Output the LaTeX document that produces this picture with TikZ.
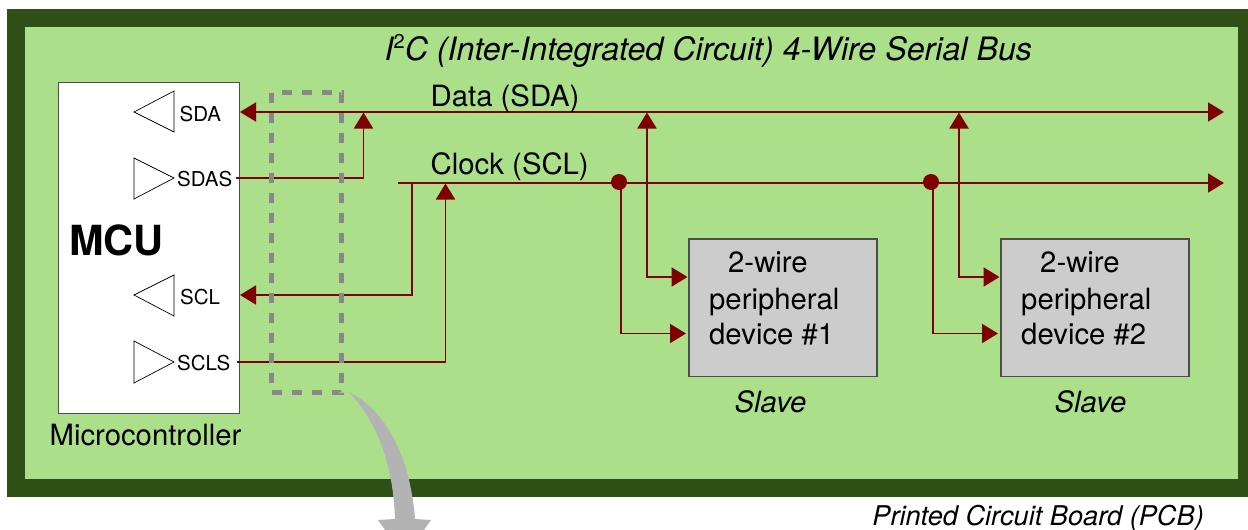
\documentclass[tikz,border=0pt]{standalone}
\usepackage{fontspec}
\setmainfont{TeX Gyre Heros}
\usetikzlibrary{arrows.meta}
\definecolor{pcbdark}{HTML}{2E4F16}
\definecolor{pcblight}{HTML}{ABDF89}
\definecolor{wire}{HTML}{7F0000}
\definecolor{boxedge}{HTML}{4D4D4D}
\definecolor{dev}{HTML}{CCCCCC}
\definecolor{dashc}{HTML}{888888}
\definecolor{swoosh}{HTML}{B3B3B3}
\tikzset{
 x=1pt,y=-1pt,
 wirel/.style={draw=wire,line width=1.9pt},
 arr/.style={wirel,-{Triangle[length=16pt,width=19pt]}},
 arrb/.style={wirel,{Triangle[length=16pt,width=19pt]}-{Triangle[length=16pt,width=19pt]}},
 buf/.style={draw=black,line width=0.7pt,fill=white},
 lab/.style={inner sep=0pt,anchor=base,font=\fontsize{29.3}{29.3}\selectfont},
 small/.style={inner sep=0pt,anchor=base west,font=\fontsize{20.5}{20.5}\selectfont},
 dot/.style={circle,fill=wire,inner sep=0pt,minimum size=16pt},
 devbox/.style={draw=boxedge,line width=1.5pt,fill=dev,anchor=north west,inner sep=0pt,minimum width=188pt,minimum height=137.5pt},
}
\begin{document}
\begin{tikzpicture}
\useasboundingbox (0,0) rectangle (1248,530);
\fill[pcbdark] (7,8.5) rectangle (1248,497);
\fill[pcblight] (25,26.5) rectangle (1238,479);
% swoosh
\fill[swoosh] (349,392) .. controls (385,410) and (410,455) .. (415,519) -- (431,520) -- (424,530) -- (385,530) -- (378,520) -- (395,519) .. controls (393,460) and (375,420) .. (349,392) -- cycle;
% MCU
\node[draw=boxedge,line width=1.5pt,fill=white,anchor=north west,inner sep=0pt,minimum width=181pt,minimum height=331pt] (mcu) at (57.5,81.5) {};
\node[inner sep=0pt,anchor=base west,font=\fontsize{41.5}{41.5}\selectfont\bfseries] (mcut) at (69,255) {MCU};
\node[lab] (mct) at (145.5,445) {Microcontroller};
% buffers
\draw[buf] (174,91) -- (134,112) -- (174,132) -- cycle;
\draw[buf] (134,158) -- (174,178) -- (134,199) -- cycle;
\draw[buf] (174,275) -- (134,295) -- (174,316) -- cycle;
\draw[buf] (134,341) -- (174,362) -- (134,383) -- cycle;
\node[small] (sda) at (179.5,121) {SDA};
\node[small] (sdas) at (177,186) {SDAS};
\node[small] (scl) at (180,304) {SCL};
\node[small] (scls) at (177,370) {SCLS};
% Named points
\coordinate (sdal) at (240,112);
\coordinate (sdar) at (1224,112);
\coordinate (sclstart) at (398,183);
\coordinate (sclr) at (1224,183);
\coordinate (sasout) at (236,178);
\coordinate (sasj) at (363.5,112.5);
\coordinate (scllin) at (240,295);
\coordinate (slsout) at (237,362);
\coordinate (slsj) at (445.5,183.5);
% Devices
\node[devbox] (d1) at (688,238) {};
\node[devbox] (d2) at (1000,238) {};
% wires
\draw[arrb] (sdal) -- (sdar);
\draw[arr] (sclstart) -- (sclr);
\draw[arr] (sasout) -| (sasj);
\draw[arr] (412,183) |- (scllin);
\draw[arr] (slsout) -| (slsj);
\draw[arrb] (647,112.5) |- (687.5,277);
\draw[arrb] (959,112.5) |- (999.5,277);
\draw[arr] (621,183) |- (686,333.5);
\draw[arr] (933,183) |- (998,333.5);
\node[dot] (j1) at (619,182) {};
\node[dot] (j2) at (931,182) {};
% dashed
\draw[dashc,line width=4.7pt,dash pattern=on 10pt off 10pt] (271.5,92.5) rectangle (341.5,392.5);
% labels
\node[lab,anchor=base west,font=\fontsize{32.2}{32.2}\selectfont\itshape] (title) at (384.5,60) {I\raisebox{0.36em}{\fontsize{20}{20}\selectfont\upshape 2}C (Inter-Integrated Circuit) 4-Wire Serial Bus};
\node[lab,anchor=base west] (dl) at (430.5,106) {Data (SDA)};
\node[lab,anchor=base west] (cl) at (430.5,174) {Clock (SCL)};
\node[lab,anchor=base west] (a1) at (728,272) {2-wire};
\node[lab,anchor=base west] (b1) at (709,309) {peripheral};
\node[lab,anchor=base west] (c1) at (709,344) {device \#1};
\node[lab,anchor=base west] (a2) at (1040,272) {2-wire};
\node[lab,anchor=base west] (b2) at (1021,309) {peripheral};
\node[lab,anchor=base west] (c2) at (1021,344) {device \#2};
\node[lab,font=\fontsize{29.3}{29.3}\selectfont\itshape] (s1) at (770.5,412) {Slave};
\node[lab,font=\fontsize{29.3}{29.3}\selectfont\itshape] (s2) at (1090.5,412) {Slave};
\node[lab,anchor=base east,font=\fontsize{27.2}{27.2}\selectfont\itshape] (pcb) at (1204,525) {Printed Circuit Board (PCB)};
\end{tikzpicture}
\end{document}
